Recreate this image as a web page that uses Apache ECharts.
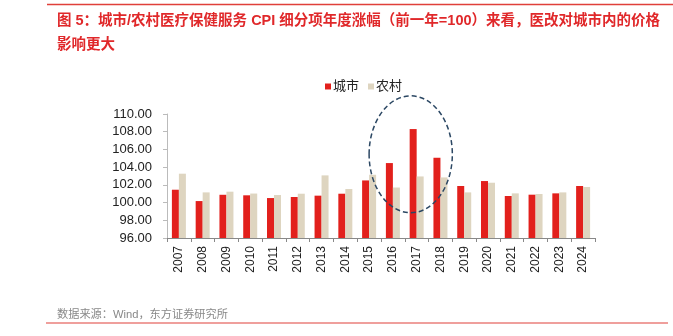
<!DOCTYPE html>
<html><head><meta charset="utf-8">
<script src="https://cdn.jsdelivr.net/npm/echarts@6/dist/echarts.min.js"></script>
<style>html,body{margin:0;padding:0;background:#fff}#c{width:673px;height:336px}</style>
</head><body><div id="c"></div>
<script>
const categories = ['2007','2008','2009','2010','2011','2012','2013','2014','2015','2016','2017','2018','2019','2020','2021','2022','2023','2024'];
const urban = [101.45,100.17,100.88,100.82,100.51,100.63,100.78,101.0,102.5,104.46,108.3,105.06,101.87,102.43,100.74,100.89,101.04,101.87];
const rural = [103.26,101.15,101.23,101.02,100.85,101.0,103.07,101.53,103.14,101.7,102.95,102.84,101.15,102.24,101.04,100.97,101.15,101.76];
const seriesNames = ['城市','农村'];
const titleText = '图 5：城市/农村医疗保健服务 CPI 细分项年度涨幅（前一年=100）来看，医改对城市内的价格\n影响更大';
const sourceText = '数据来源：Wind，东方证券研究所';

const chart = echarts.init(document.getElementById('c'));
const cjk = '"Liberation Sans","Noto Sans CJK SC",sans-serif';
chart.setOption({
  animation:false,
  textStyle:{fontFamily:cjk},
  title:{text:titleText,left:52,top:4,textStyle:{color:'#e0282a',fontSize:14.5,fontWeight:'bold',lineHeight:24,fontFamily:cjk}},
  legend:{data:seriesNames,top:75,left:320,itemWidth:6,itemHeight:6,itemGap:9,icon:'rect',
    textStyle:{fontSize:13,color:'#222',fontFamily:cjk,padding:[0,0,0,-3]}},
  grid:{left:167,right:78,top:114,bottom:98},
  xAxis:{type:'category',data:categories,
    axisLine:{lineStyle:{color:'#888'}},
    axisTick:{show:true,alignWithLabel:false,lineStyle:{color:'#888'},length:4},
    axisLabel:{rotate:90,color:'#222',fontSize:12,margin:8,fontFamily:'"Liberation Sans",sans-serif'}},
  yAxis:{type:'value',min:96,max:110,interval:2,
    axisLine:{show:true,lineStyle:{color:'#bbb'}},
    axisTick:{show:true,lineStyle:{color:'#bbb'},length:4},
    splitLine:{show:false},
    axisLabel:{formatter:v=>v.toFixed(2),color:'#222',fontSize:13,margin:15,fontFamily:'"Liberation Sans",sans-serif'}},
  series:[
    {name:seriesNames[0],type:'bar',data:urban,barWidth:7,barGap:'0%',itemStyle:{color:'#e2201c'}},
    {name:seriesNames[1],type:'bar',data:rural,barWidth:7,itemStyle:{color:'#ded5c0'}}
  ]
});
// annotation ellipse around 2016-2018
const p16 = chart.convertToPixel({xAxisIndex:0,yAxisIndex:0},['2016',106]);
const p17 = chart.convertToPixel({xAxisIndex:0,yAxisIndex:0},['2017',106]);
const p18 = chart.convertToPixel({xAxisIndex:0,yAxisIndex:0},['2018',106]);
const pTop = chart.convertToPixel({yAxisIndex:0},112.05);
const pBot = chart.convertToPixel({yAxisIndex:0},98.85);
const catW = p18[0]-p17[0];
const cx = p17[0]-catW*0.25, cy=(pTop+pBot)/2;
chart.setOption({graphic:[
  {type:'ellipse',shape:{cx:cx,cy:cy,rx:catW*1.75,ry:(pBot-pTop)/2},
   style:{fill:'none',stroke:'#2b4763',lineWidth:1.5,lineDash:[5,3]},z:10},
  {type:'line',shape:{x1:47,y1:4.5,x2:673,y2:4.5},style:{stroke:'#e0403a',lineWidth:1.5}},
  {type:'line',shape:{x1:46,y1:323,x2:668,y2:323},style:{stroke:'#e0403a',lineWidth:1.2}},
  {type:'text',left:57,top:309,style:{text:sourceText,fill:'#888',fontSize:11.2,fontFamily:cjk}}
]});
</script></body></html>
